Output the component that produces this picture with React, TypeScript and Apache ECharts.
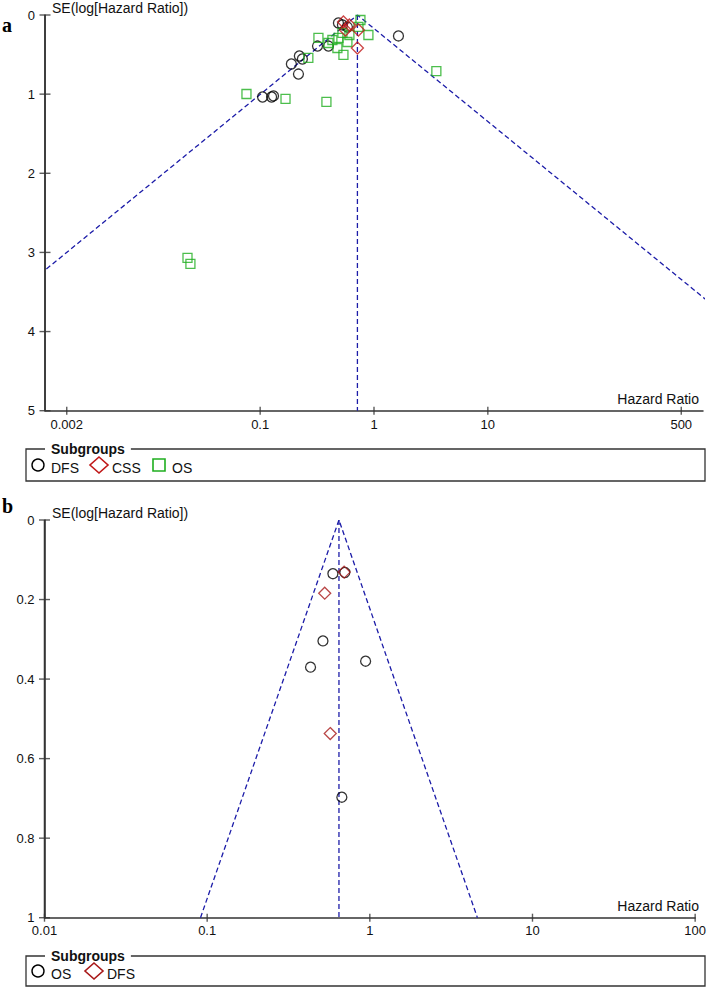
import React, { useEffect, useRef } from "react";
import * as echarts from "echarts";

// ---------- Panel a ----------
const TOP_X_TICKS = [0.002, 0.1, 1, 10, 500];
const TOP_Y_TICKS = [0, 1, 2, 3, 4, 5];
const TOP_POOLED_HR = 0.715;

const TOP_DFS_HR = [0.487, 0.528, 0.584, 1.64, 0.319, 0.398, 0.221, 0.235, 0.188, 0.217, 0.105, 0.126, 0.131];
const TOP_DFS_SE = [0.101, 0.126, 0.152, 0.265, 0.392, 0.392, 0.518, 0.556, 0.619, 0.746, 1.036, 1.036, 1.023];

const TOP_CSS_HR = [0.539, 0.561, 0.608, 0.73, 0.715];
const TOP_CSS_SE = [0.088, 0.19, 0.126, 0.19, 0.417];

const TOP_OS_HR = [0.76, 0.73, 0.893, 0.325, 0.398, 0.487, 0.528, 0.608, 0.477, 0.539, 0.265, 3.53, 0.0758, 0.167, 0.382, 0.023, 0.0244, 0.584, 0.431];
const TOP_OS_SE = [0.063, 0.15, 0.253, 0.29, 0.354, 0.29, 0.227, 0.253, 0.417, 0.505, 0.543, 0.708, 0.998, 1.061, 1.099, 3.07, 3.146, 0.341, 0.316];

// ---------- Panel b ----------
const BOT_X_TICKS = [0.01, 0.1, 1, 10, 100];
const BOT_Y_TICKS = [0, 0.2, 0.4, 0.6, 0.8, 1];
const BOT_POOLED_HR = 0.646;

const BOT_OS_HR = [0.515, 0.432, 0.942, 0.593, 0.673, 0.702];
const BOT_OS_SE = [0.304, 0.37, 0.355, 0.135, 0.697, 0.132];

const BOT_DFS_HR = [0.528, 0.571, 0.695];
const BOT_DFS_SE = [0.184, 0.537, 0.131];

const Z = 1.96 / Math.LN10;
const FONT = "Liberation Sans";
const AXIS_COLOR = "#333";
const FUNNEL_COLOR = "#1c1ca8";
const RED = "#c01818";
const GREEN = "#1fae1f";

const lg = (v: number) => Math.log10(v);
const pts = (hr: number[], se: number[]) => hr.map((h, i) => [lg(h), se[i]]);

function labelFor(ticks: number[]) {
  return (v: number) => {
    const t = ticks.find((t) => Math.abs(lg(t) - v) < 1e-6);
    return t === undefined ? "" : String(t);
  };
}

function xAxis(grid: number, min: number, max: number, ticks: number[], margin: number) {
  const cv = ticks.map(lg);
  return {
    type: "value", gridIndex: grid, min, max, position: "bottom",
    axisLine: { show: true, onZero: false, lineStyle: { color: AXIS_COLOR, width: 1.5 } },
    axisTick: { show: false },
    axisLabel: { customValues: cv, formatter: labelFor(ticks), margin, fontSize: 13, lineHeight: 11, color: "#111", fontFamily: FONT },
    splitLine: { show: false },
  };
}

function yAxis(grid: number, ticks: number[]) {
  const min = ticks[0];
  const max = ticks[ticks.length - 1];
  const interval = ticks[1] - ticks[0];
  return {
    type: "value", gridIndex: grid, min, max, interval, inverse: true, position: "left",
    axisLine: { show: true, onZero: false, lineStyle: { color: AXIS_COLOR, width: 1.5 } },
    axisTick: { show: false },
    axisLabel: { margin: 10, fontSize: 13, lineHeight: 10, color: "#111", fontFamily: FONT, formatter: (v: number) => String(+v.toFixed(1)) },
    splitLine: { show: false },
  };
}

// axis frame drawn from the axis ranges and tick arrays: y-axis line plus ticks crossing both axes
function frameSeries(idx: number, xMin: number, xTicks: number[], yTicks: number[]) {
  const yMin = yTicks[0];
  const yMax = yTicks[yTicks.length - 1];
  return [
    {
      type: "line", xAxisIndex: idx, yAxisIndex: idx, symbol: "none", silent: true, clip: false, z: 6,
      lineStyle: { color: AXIS_COLOR, width: 1.5, type: "solid" },
      data: [[xMin, yMin], [xMin, yMax]],
    },
    {
      type: "scatter", xAxisIndex: idx, yAxisIndex: idx, silent: true, clip: false, z: 6,
      symbol: "rect", symbolSize: [11, 1.4],
      itemStyle: { color: AXIS_COLOR },
      data: yTicks.map((v) => [xMin, v]),
    },
    {
      type: "scatter", xAxisIndex: idx, yAxisIndex: idx, silent: true, clip: false, z: 6,
      symbol: "rect", symbolSize: [1.4, 8],
      itemStyle: { color: AXIS_COLOR },
      data: xTicks.map((t) => [lg(t), yMax]),
    },
  ];
}

function funnelSeries(idx: number, pooled: number, seMax: number) {
  const c = lg(pooled);
  const style = { color: FUNNEL_COLOR, width: 1.3, type: [5, 3] as any };
  return [
    {
      type: "line", xAxisIndex: idx, yAxisIndex: idx, symbol: "none", silent: true, clip: true,
      lineStyle: style,
      data: [[c - Z * seMax, seMax], [c, 0], [c + Z * seMax, seMax]],
    },
    {
      type: "line", xAxisIndex: idx, yAxisIndex: idx, symbol: "none", silent: true, clip: true,
      lineStyle: style,
      data: [[c, 0], [c, seMax]],
    },
  ];
}

function scatter(name: string, idx: number, data: number[][], symbol: string, size: number, color: string) {
  return {
    name, type: "scatter", xAxisIndex: idx, yAxisIndex: idx, data, symbol, symbolSize: size,
    itemStyle: { color: "rgba(0,0,0,0)", borderColor: color, borderWidth: 1.3 },
    z: 5,
  };
}

type Item = { label: string; shape: "circle" | "diamond" | "square"; color: string };

function legendBox(top: number, bottom: number, items: Item[], xs: number[]) {
  const cy = (top + bottom) / 2 + 1;
  const els: any[] = [
    { type: "rect", shape: { x: 26, y: top, width: 679, height: bottom - top }, style: { fill: "none", stroke: AXIS_COLOR, lineWidth: 1.3 } },
    {
      type: "text", x: 45, y: top,
      style: { text: "Subgroups", font: `bold 14px "${FONT}"`, fill: "#111", align: "left", verticalAlign: "middle", backgroundColor: "#fff", padding: [0, 6, 0, 6] },
    },
  ];
  items.forEach((it, i) => {
    const x = xs[i];
    if (it.shape === "circle") {
      els.push({ type: "circle", shape: { cx: x, cy: cy - 1, r: 6 }, style: { fill: "none", stroke: it.color, lineWidth: 1.4 } });
    } else if (it.shape === "diamond") {
      els.push({ type: "polygon", shape: { points: [[x, cy - 9], [x + 9, cy - 1], [x, cy + 7], [x - 9, cy - 1]] }, style: { fill: "none", stroke: it.color, lineWidth: 1.6 } });
    } else {
      els.push({ type: "rect", shape: { x: x - 6, y: cy - 7, width: 12, height: 12 }, style: { fill: "none", stroke: it.color, lineWidth: 1.6 } });
    }
    els.push({ type: "text", x: x + 13, y: cy + 2, style: { text: it.label, font: `14px "${FONT}"`, fill: "#111", align: "left", verticalAlign: "middle" } });
  });
  return els;
}

export default function App() {
  const ref = useRef<HTMLDivElement>(null);
  useEffect(() => {
    if (!ref.current) return;
    const chart = echarts.init(ref.current, undefined, { renderer: "svg" });
    const topMin = -2.89, topMax = 2.89;
    const botMin = lg(BOT_X_TICKS[0]), botMax = lg(BOT_X_TICKS[BOT_X_TICKS.length - 1]);
    const option: any = {
      animation: false,
      backgroundColor: "#fff",
      grid: [
        { left: 45, top: 15, width: 658, height: 395.7 },
        { left: 44.5, top: 520, width: 657.5, height: 397.7 },
      ],
      xAxis: [xAxis(0, topMin, topMax, TOP_X_TICKS, 8), xAxis(1, botMin, botMax, BOT_X_TICKS, 7)],
      yAxis: [yAxis(0, TOP_Y_TICKS), yAxis(1, BOT_Y_TICKS)],
      series: [
        ...frameSeries(0, topMin, TOP_X_TICKS, TOP_Y_TICKS),
        ...funnelSeries(0, TOP_POOLED_HR, TOP_Y_TICKS[TOP_Y_TICKS.length - 1]),
        scatter("DFS", 0, pts(TOP_DFS_HR, TOP_DFS_SE), "circle", 10, "#000"),
        scatter("OS", 0, pts(TOP_OS_HR, TOP_OS_SE), "rect", 9, GREEN),
        scatter("CSS", 0, pts(TOP_CSS_HR, TOP_CSS_SE), "diamond", 12, RED),
        ...frameSeries(1, botMin, BOT_X_TICKS, BOT_Y_TICKS),
        ...funnelSeries(1, BOT_POOLED_HR, BOT_Y_TICKS[BOT_Y_TICKS.length - 1]),
        scatter("OS", 1, pts(BOT_OS_HR, BOT_OS_SE), "circle", 10, "#000"),
        scatter("DFS", 1, pts(BOT_DFS_HR, BOT_DFS_SE), "diamond", 12, "#a81818"),
      ],
      graphic: [
        { type: "text", x: 2, y: 15, style: { text: "a", font: 'bold 20px "Liberation Serif"', fill: "#000", align: "left", verticalAlign: "alphabetic" } },
        { type: "text", x: 2, y: 496, style: { text: "b", font: 'bold 20px "Liberation Serif"', fill: "#000", align: "left", verticalAlign: "alphabetic" } },
        { type: "text", x: 52, y: 8, style: { text: "SE(log[Hazard Ratio])", font: `14px "${FONT}"`, fill: "#111", align: "left", verticalAlign: "middle" } },
        { type: "text", x: 52, y: 513, style: { text: "SE(log[Hazard Ratio])", font: `14px "${FONT}"`, fill: "#111", align: "left", verticalAlign: "middle" } },
        { type: "text", x: 699, y: 399, style: { text: "Hazard Ratio", font: `14px "${FONT}"`, fill: "#111", align: "right", verticalAlign: "middle" } },
        { type: "text", x: 699, y: 906, style: { text: "Hazard Ratio", font: `14px "${FONT}"`, fill: "#111", align: "right", verticalAlign: "middle" } },
        ...legendBox(449, 481, [
          { label: "DFS", shape: "circle", color: "#000" },
          { label: "CSS", shape: "diamond", color: RED },
          { label: "OS", shape: "square", color: GREEN },
        ], [38, 99, 159]),
        ...legendBox(956, 986, [
          { label: "OS", shape: "circle", color: "#000" },
          { label: "DFS", shape: "diamond", color: "#a81818" },
        ], [38, 94]),
      ],
    };
    chart.setOption(option);
    return () => chart.dispose();
  }, []);
  return <div ref={ref} style={{ position: "fixed", left: 0, top: 0, width: 709, height: 989, background: "#fff" }} />;
}
